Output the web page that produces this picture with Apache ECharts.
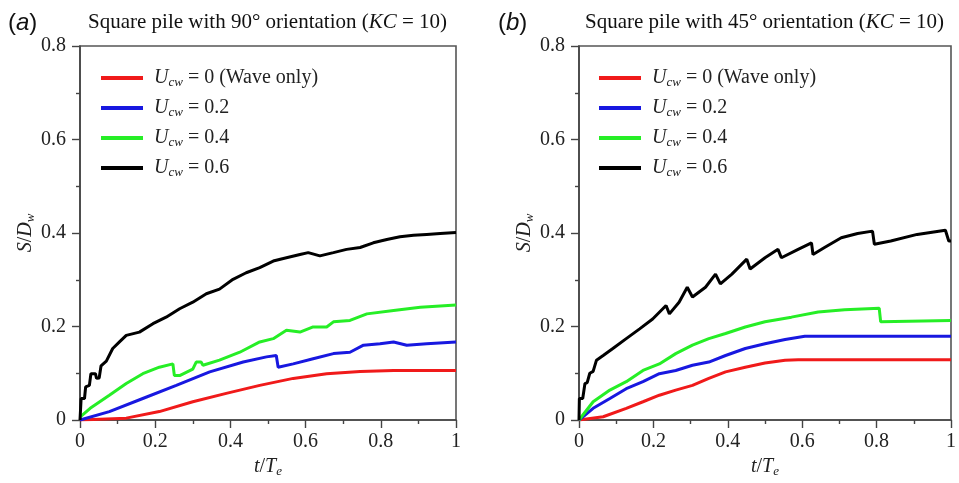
<!DOCTYPE html>
<html>
<head>
<meta charset="utf-8">
<script src="https://cdn.jsdelivr.net/npm/echarts@6/dist/echarts.min.js"></script>
<style>html,body{margin:0;padding:0;background:#fff}#c{width:959px;height:483px}</style>
</head>
<body>
<div id="c"></div>
<script>
// ---------- Data (a): 90° orientation ----------
const tA_red   = [0, 0.123, 0.211, 0.300, 0.389, 0.478, 0.567, 0.656, 0.745, 0.834, 1.0];
const vA_red   = [0, 0.004, 0.018, 0.039, 0.057, 0.074, 0.089, 0.099, 0.104, 0.106, 0.106];
const tA_blue  = [0, 0.078, 0.167, 0.256, 0.345, 0.434, 0.496, 0.522, 0.527, 0.567, 0.620, 0.674, 0.718, 0.754, 0.798, 0.834, 0.869, 0.922, 1.0];
const vA_blue  = [0, 0.018, 0.046, 0.074, 0.103, 0.124, 0.135, 0.138, 0.113, 0.120, 0.131, 0.142, 0.145, 0.160, 0.163, 0.167, 0.160, 0.163, 0.167];
const tA_green = [0, 0.027, 0.078, 0.123, 0.167, 0.211, 0.247, 0.251, 0.265, 0.300, 0.309, 0.322, 0.327, 0.371, 0.425, 0.478, 0.514, 0.549, 0.585, 0.620, 0.656, 0.674, 0.718, 0.763, 0.834, 0.905, 1.0];
const vA_green = [0.006, 0.025, 0.053, 0.078, 0.099, 0.113, 0.120, 0.095, 0.095, 0.109, 0.124, 0.124, 0.117, 0.128, 0.145, 0.167, 0.174, 0.192, 0.188, 0.199, 0.199, 0.210, 0.213, 0.227, 0.234, 0.241, 0.246];
const tA_black = [0, 0.003, 0.012, 0.015, 0.025, 0.029, 0.041, 0.044, 0.051, 0.056, 0.070, 0.087, 0.105, 0.123, 0.158, 0.194, 0.229, 0.265, 0.300, 0.336, 0.371, 0.407, 0.442, 0.478, 0.514, 0.549, 0.585, 0.607, 0.638, 0.674, 0.709, 0.745, 0.780, 0.816, 0.851, 0.887, 0.922, 0.958, 1.0];
const vA_black = [0, 0.046, 0.046, 0.071, 0.074, 0.099, 0.099, 0.089, 0.090, 0.116, 0.126, 0.153, 0.167, 0.181, 0.188, 0.206, 0.220, 0.238, 0.252, 0.270, 0.280, 0.301, 0.315, 0.326, 0.340, 0.347, 0.354, 0.358, 0.351, 0.358, 0.365, 0.369, 0.379, 0.386, 0.392, 0.395, 0.397, 0.399, 0.401];

// ---------- Data (b): 45° orientation ----------
const tB_red   = [0, 0.065, 0.127, 0.172, 0.216, 0.260, 0.305, 0.349, 0.394, 0.447, 0.500, 0.554, 0.589, 1.0];
const vB_red   = [0, 0.007, 0.025, 0.039, 0.053, 0.064, 0.074, 0.089, 0.103, 0.113, 0.122, 0.128, 0.129, 0.129];
const tB_blue  = [0, 0.038, 0.083, 0.127, 0.172, 0.216, 0.260, 0.305, 0.349, 0.394, 0.447, 0.500, 0.554, 0.607, 0.660, 1.0];
const vB_blue  = [0, 0.025, 0.046, 0.067, 0.082, 0.099, 0.106, 0.117, 0.124, 0.138, 0.153, 0.163, 0.172, 0.179, 0.179, 0.179];
const tB_green = [0, 0.038, 0.083, 0.127, 0.172, 0.216, 0.260, 0.305, 0.349, 0.394, 0.447, 0.500, 0.571, 0.643, 0.714, 0.807, 0.811, 1.0];
const vB_green = [0, 0.039, 0.064, 0.082, 0.106, 0.120, 0.142, 0.160, 0.174, 0.185, 0.199, 0.210, 0.220, 0.231, 0.236, 0.239, 0.210, 0.213];
const tB_black = [0, 0.001, 0.010, 0.016, 0.022, 0.029, 0.038, 0.047, 0.065, 0.091, 0.127, 0.163, 0.198, 0.234, 0.243, 0.269, 0.291, 0.305, 0.340, 0.367, 0.380, 0.411, 0.451, 0.460, 0.500, 0.535, 0.544, 0.589, 0.625, 0.629, 0.660, 0.705, 0.749, 0.789, 0.794, 0.838, 0.909, 0.985, 0.994, 1.0];
const vB_black = [0, 0.046, 0.046, 0.078, 0.080, 0.100, 0.104, 0.128, 0.138, 0.153, 0.174, 0.195, 0.216, 0.245, 0.227, 0.252, 0.284, 0.263, 0.284, 0.312, 0.291, 0.312, 0.344, 0.323, 0.347, 0.365, 0.347, 0.365, 0.379, 0.354, 0.369, 0.390, 0.399, 0.404, 0.376, 0.383, 0.397, 0.406, 0.383, 0.383];

const seriesNames = ['U0', 'U2', 'U4', 'U6'];
const legendLabels = ['0 (Wave only)', '0.2', '0.4', '0.6'];
const colors = ['#f01a1a', '#1818e0', '#26ee26', '#000000'];
const xTicks = [0, 0.2, 0.4, 0.6, 0.8, 1];
const yTicks = [0, 0.2, 0.4, 0.6, 0.8];

const serif = '"Liberation Serif", "DejaVu Serif", serif';
const sans = '"Liberation Sans", Arial, sans-serif';

function pairs(t, v) { return t.map((x, i) => [x, v[i]]); }

const grids = [
  { left: 80, right: 503, top: 46, bottom: 61.3 },
  { left: 579, right: 5.5, top: 46, bottom: 61.3 }
];

const richName = {
  i: { fontFamily: serif, fontStyle: 'italic', fontSize: 20, color: '#222', lineHeight: 22 },
  n: { fontFamily: serif, fontSize: 20, color: '#222', lineHeight: 22 },
  s: { fontFamily: serif, fontStyle: 'italic', fontSize: 13, color: '#222', lineHeight: 13, verticalAlign: 'bottom' }
};

function xAxisFor(gi) {
  return {
    type: 'value', gridIndex: gi, min: 0, max: 1, interval: 0.2,
    axisLine: { show: true, lineStyle: { color: '#444', width: 1.6 } },
    axisTick: { show: true, inside: false, length: 8, lineStyle: { color: '#444', width: 1.4 } },
    minorTick: { show: true, splitNumber: 2, length: 4, lineStyle: { color: '#444', width: 1.4 } },
    splitLine: { show: false },
    axisLabel: { fontFamily: serif, fontSize: 20, color: '#222', margin: 12,
      formatter: v => xTicks.includes(Math.round(v * 10) / 10) ? String(Math.round(v * 10) / 10) : '' },
    name: '{i|t}{n|/}{i|T}{s|e}', nameLocation: 'middle', nameGap: 36,
    nameTextStyle: { rich: richName }
  };
}
function yAxisFor(gi) {
  return {
    type: 'value', gridIndex: gi, min: 0, max: 0.8, interval: 0.2,
    axisLine: { show: true, lineStyle: { color: '#444', width: 1.6 } },
    axisTick: { show: true, inside: false, length: 8, lineStyle: { color: '#444', width: 1.4 } },
    minorTick: { show: true, splitNumber: 2, length: 4, lineStyle: { color: '#444', width: 1.4 } },
    splitLine: { show: false },
    axisLabel: { fontFamily: serif, fontSize: 20, color: '#222', margin: 14,
      formatter: v => yTicks.includes(Math.round(v * 10) / 10) ? String(Math.round(v * 10) / 10) : '' },
    name: '{i|S}{n|/}{i|D}{s|w}', nameLocation: 'middle', nameGap: 34, nameRotate: 90,
    nameTextStyle: { rich: richName }
  };
}

const dataA = [pairs(tA_red, vA_red), pairs(tA_blue, vA_blue), pairs(tA_green, vA_green), pairs(tA_black, vA_black)];
const dataB = [pairs(tB_red, vB_red), pairs(tB_blue, vB_blue), pairs(tB_green, vB_green), pairs(tB_black, vB_black)];

const series = [];
[dataA, dataB].forEach((ds, gi) => {
  ds.forEach((d, k) => {
    series.push({
      type: 'line', name: seriesNames[k], xAxisIndex: gi, yAxisIndex: gi,
      data: d, symbol: 'none', smooth: false, animation: false,
      lineStyle: { color: colors[k], width: 3 }, itemStyle: { color: colors[k] }, z: 3 + k
    });
  });
});

const legendRich = {
  u: { fontFamily: serif, fontStyle: 'italic', fontSize: 20, color: '#222', lineHeight: 22 },
  s: { fontFamily: serif, fontStyle: 'italic', fontSize: 13, color: '#222', lineHeight: 13, verticalAlign: 'bottom' },
  t: { fontFamily: serif, fontSize: 20, color: '#222', lineHeight: 22 }
};
function legendFor(left) {
  return {
    orient: 'vertical', left: left, top: 63, itemWidth: 42, itemHeight: 4, itemGap: 9,
    icon: 'rect', selectedMode: false,
    data: seriesNames.map((n, k) => ({ name: n, itemStyle: { color: colors[k] } })),
    formatter: name => {
      const k = seriesNames.indexOf(name);
      return '{u|U}{s|cw}{t| = ' + legendLabels[k] + '}';
    },
    textStyle: { rich: legendRich, padding: [0, 0, 0, 6] }
  };
}

const titleRich = {
  p: { fontFamily: sans, fontSize: 24, color: '#111', fontWeight: 'normal' },
  a: { fontFamily: sans, fontStyle: 'italic', fontSize: 24, color: '#111', fontWeight: 'normal' },
  n: { fontFamily: serif, fontSize: 21, color: '#111', fontWeight: 'normal' },
  k: { fontFamily: serif, fontStyle: 'italic', fontSize: 21, color: '#111', fontWeight: 'normal' }
};

const option = {
  backgroundColor: '#fff',
  animation: false,
  title: [
    { text: '{p|(}{a|a}{p|)}', left: 3, top: 6, textStyle: { rich: titleRich, fontWeight: 'normal' } },
    { text: '{n|Square pile with 90° orientation (}{k|KC}{n| = 10)}', left: 83, top: 7, textStyle: { rich: titleRich, fontWeight: 'normal' } },
    { text: '{p|(}{a|b}{p|)}', left: 493, top: 6, textStyle: { rich: titleRich, fontWeight: 'normal' } },
    { text: '{n|Square pile with 45° orientation (}{k|KC}{n| = 10)}', left: 580, top: 7, textStyle: { rich: titleRich, fontWeight: 'normal' } }
  ],
  grid: grids.map(g => Object.assign({ show: true, borderColor: '#555', borderWidth: 1.6, backgroundColor: 'transparent' }, g)),
  xAxis: [xAxisFor(0), xAxisFor(1)],
  yAxis: [yAxisFor(0), yAxisFor(1)],
  legend: [legendFor(96), legendFor(594)],
  series: series
};

const chart = echarts.init(document.getElementById('c'), null, { renderer: 'canvas' });
chart.setOption(option);
</script>
</body>
</html>
